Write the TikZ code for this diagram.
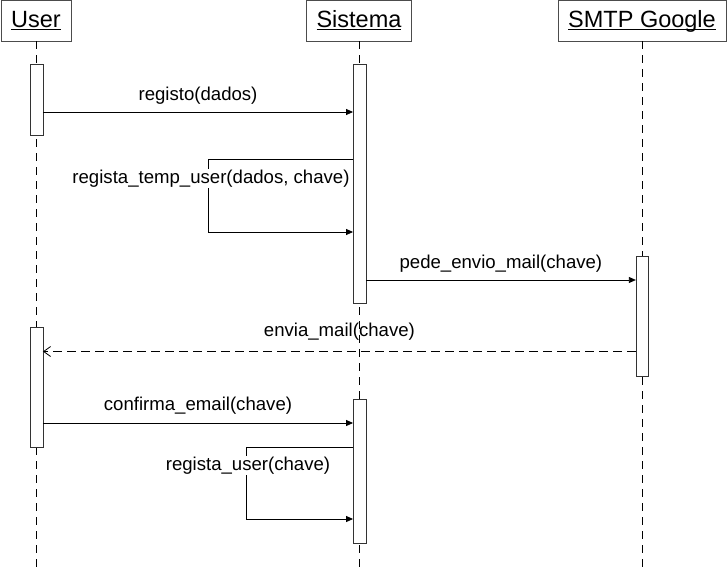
\documentclass[tikz,border=0pt]{standalone}
\usepackage{fontspec}
\setmainfont{Liberation Sans}
\usetikzlibrary{arrows.meta,positioning}

\newcommand{\ulname}[1]{\underline{\smash{#1}\vphantom{U}}}

\begin{document}
\begin{tikzpicture}[x=1pt, y=-1pt,
	actor_node/.style={draw=black!70, rectangle, minimum height=41pt, inner xsep=10pt, font=\fontsize{23.5}{28}\selectfont},
	bar_node/.style={draw=black!80, fill=white, minimum width=12.5pt, inner sep=0pt},
	life_line/.style={dash pattern=on 8pt off 6pt, line width=0.8pt},
	call_line/.style={-{Triangle[length=7pt,width=6pt]}, line width=0.8pt},
	reply_line/.style={-{Straight Barb[length=7pt,width=10pt]}, dash pattern=on 9pt off 5pt, line width=0.8pt},
	msg_label/.style={font=\fontsize{18.6}{22}\selectfont, inner sep=1pt, anchor=base}]
				\useasboundingbox (0,0) rectangle (727,568);
				\node[actor_node] (user) at (36,20.5) {\ulname{User}};
				\node[actor_node] (sist) at (359,20.5) {\ulname{Sistema}};
				\node[actor_node] (smtp) at (642,20.5) {\ulname{SMTP Google}};
				\coordinate (bottom) at (0,568);
				
				\draw[life_line] (user.south) -- (user.south |- bottom);
				\draw[life_line] (sist.south) -- (sist.south |- bottom);
				\draw[life_line] (smtp.south) -- (smtp.south |- bottom);
				
				\node[bar_node, minimum height=71pt] (u1) at (36.5,99.5) {};
				\node[bar_node, minimum height=239pt] (s1) at (359.5,183.5) {};
				\node[bar_node, minimum height=120pt] (g1) at (642.3,316) {};
				\node[bar_node, minimum height=120pt] (u2) at (36.5,387) {};
				\node[bar_node, minimum height=144pt] (s2) at (359.5,471) {};
				
				\draw[call_line] (u1.east |- 0,112) -- node[msg_label, yshift=12pt] {registo(dados)} (s1.west |- 0,112);
				\draw[call_line] (s1.west |- 0,159) -- (208,159) -- (208,232) -- (s1.west |- 0,232);
				\node[msg_label, fill=white] (t1) at (211,183.5) {regista\_temp\_user(dados, chave)};
				\draw[call_line] (s1.east |- 0,280) -- node[msg_label, yshift=12pt] {pede\_envio\_mail(chave)} (g1.west |- 0,280);
				\draw[reply_line] (g1.west |- 0,351.5) -- node[msg_label, yshift=15pt] {envia\_mail(chave)} (u2.east |- 0,351.5);
				\draw[call_line] (u2.east |- 0,423) -- node[msg_label, yshift=13pt] {confirma\_email(chave)} (s2.west |- 0,423);
				\draw[call_line] (s2.west |- 0,447) -- (246,447) -- (246,519) -- (s2.west |- 0,519);
				\node[msg_label, fill=white] (t2) at (248,470.5) {regista\_user(chave)};
			\end{tikzpicture}
\end{document}
